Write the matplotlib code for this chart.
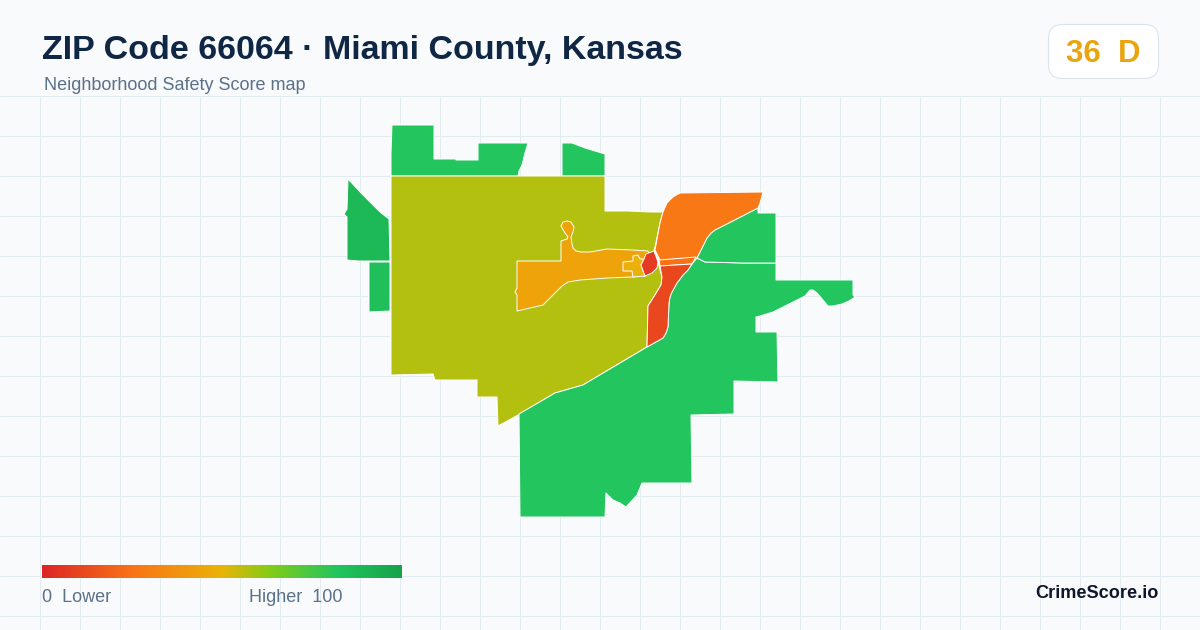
import numpy as np
import matplotlib
matplotlib.use("Agg")
import matplotlib.pyplot as plt
from matplotlib.colors import LinearSegmentedColormap
from matplotlib.patches import FancyBboxPatch

plt.rcParams['font.family'] = ['Liberation Sans', 'DejaVu Sans']

# --- text ---
title = "ZIP Code 66064 · Miami County, Kansas"
subtitle = "Neighborhood Safety Score map"
badge_text = "36  D"
brand = "CrimeScore.io"

# --- colour scale ---
scale_stops = [0.0, 0.25, 0.5, 0.63, 0.82, 1.0]
scale_colors = ["#dc2626", "#f97316", "#eab308", "#84cc16", "#22c55e", "#16a34a"]

# --- area outlines (x, y in image pixels) ---
north_a = [(392,125),(434,125),(434,159),(456,159),(456,160),(478,160),(478,143),(528,143),
           (525,153),(522,165),(519,171),(518,176),(391,176),(391,153)]
north_b = [(562,143),(572,143),(585,148),(605,154),(605,176),(562,176)]
west_a = [(348,179),(363,195),(380,212),(389,219),(390,261),(358,261),(347,260),(347,240),
          (347,217),(344,214),(347,209)]
west_b = [(369,262),(390,262),(390,311),(369,312)]
rural = [(391,176),(605,176),(605,211),(627,211),(650,212),(663,212),(660,223),(655,247),
         (654,250),(659,266),(662,277),(661,285),(655,295),(648,306),(647,347),(583,385),
         (555,393),(520,414),(498,426),(497,397),(477,397),(477,380),(435,380),(433,374),(391,375)]
town_west = [(517,261),(561,261),(561,241),(567,239),(568,237),(565,233),(561,226),(563,222),
             (567,221),(571,222),(574,227),(573,232),(571,237),(572,244),(573,248),(576,251),
             (581,252),(590,252),(607,249),(633,250),(648,251),(652,262),(645,276),(632,277),
             (607,278),(580,280),(568,282),(562,286),(552,296),(543,305),(517,311),(517,295),
             (515,292),(517,288)]
town_inner = [(623,262),(633,261),(633,256),(638,255),(640,259),(644,259),(641,265),(645,276),
              (633,277),(632,271),(623,271)]
town_core = [(644,259),(646,254),(654,251),(658,262),(657,268),(652,273),(645,276),(641,265)]
north_east = [(680,193),(763,192),(760,203),(758,208),(715,230),(711,233),(707,238),(697,258),
              (660,260),(655,250),(660,223),(663,212),(667,203),(673,197)]
strip = [(659,260),(696,257),(692,264),(660,266)]
river_south = [(660,266),(692,264),(688,270),(683,275),(677,283),(672,292),(670,297),(669,303),
               (668,327),(666,333),(663,338),(647,347),(648,306),(655,295),(661,285),(662,277)]
east_upper = [(758,208),(758,213),(776,213),(776,263),(743,263),(705,262),(697,258),(707,238),
              (711,233),(715,230)]
south_east = [(697,258),(705,262),(743,263),(776,263),(776,280),(830,280),(853,280),(853,295),
              (855,297),(849,301),(842,304),(833,306),(828,306),(823,300),(817,293),(813,290),
              (810,290),(805,296),(773,312),(760,316),(756,317),(756,332),(777,332),(778,382),
              (734,381),(734,414),(691,415),(692,483),(642,483),(637,495),(626,507),(620,503),
              (613,500),(606,493),(605,517),(520,517),(519,414),(555,393),(583,385),(647,347),
              (663,338),(666,333),(668,327),(669,303),(670,297),(672,292),(677,283),(683,275),
              (688,270),(692,264)]

areas = [north_a, north_b, west_a, west_b, rural, south_east, east_upper, north_east, strip,
         river_south, town_west, town_inner, town_core]
scores = [82, 82, 88, 85, 57, 82, 82, 27, 25, 11, 44, 49, 7]

fig = plt.figure(figsize=(12, 6.3), dpi=100, facecolor="#f8fafc")
ax = fig.add_axes([0, 0, 1, 1])
ax.set_xlim(0, 1200)
ax.set_ylim(630, 0)
ax.axis('off')

# background grid
ax.vlines(np.arange(40, 1200, 40), 97, 630, color="#e2ecf0", lw=0.72, zorder=1)
ax.hlines(np.arange(96, 630, 40), 0, 1200, color="#e2ecf0", lw=0.72, zorder=1)

# map
cmap = LinearSegmentedColormap.from_list("safety", list(zip(scale_stops, scale_colors)))
for outline, score in zip(areas, scores):
    pts = np.array(outline)
    ax.fill(pts[:, 0], pts[:, 1], facecolor=cmap(score / 100), edgecolor="white",
            lw=0.7, joinstyle='round', zorder=2)

# header
ax.text(42, 50, title, fontsize=24.45, fontweight='bold', color="#0f2744", va='center', zorder=5)
ax.text(44, 86, subtitle, fontsize=12.95, color="#5b7089", va='center', zorder=5)

# score badge
badge = FancyBboxPatch((1048.5, 24.5), 110, 54, boxstyle="round,pad=0,rounding_size=14",
                       facecolor="white", edgecolor="#dde3ec", lw=0.8, zorder=4)
ax.add_patch(badge)
ax.text(1103, 54, badge_text, fontsize=22.5, fontweight='bold', color="#eaa40f",
        ha='center', va='center', zorder=5)

# legend
gradient = np.linspace(0, 1, 360).reshape(1, -1)
ax.imshow(gradient, cmap=cmap, extent=(42, 402, 578, 565), aspect='auto', zorder=4)
ax.set_xlim(0, 1200)
ax.set_ylim(630, 0)
ax.text(42, 598, "0  Lower", fontsize=12.95, color="#5b7089", va='center', zorder=5)
ax.text(249, 598, "Higher  100", fontsize=12.95, color="#5b7089", va='center', zorder=5)
ax.text(1158.5, 594, brand, fontsize=13.1, fontweight='bold', color="#0f172a",
        ha='right', va='center', zorder=5)

fig.savefig("out.png", dpi=100, facecolor=fig.get_facecolor())
